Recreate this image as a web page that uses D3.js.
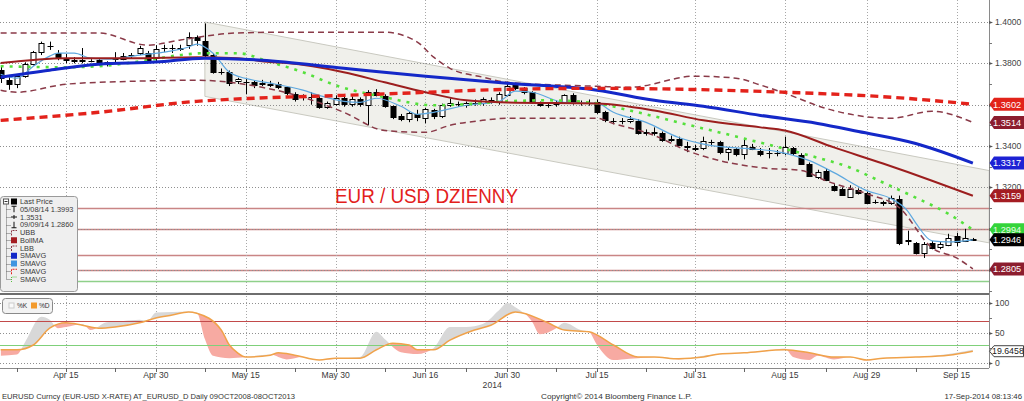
<!DOCTYPE html>
<html><head><meta charset="utf-8">
<script src="https://cdn.jsdelivr.net/npm/d3@7"></script>
<style>
html,body{margin:0;padding:0;background:#fff;}
svg{display:block;font-family:"Liberation Sans",Arial,sans-serif;}
</style></head><body>
<svg id="c" width="1024" height="401"></svg>
<script>
// ---------------- DATA ----------------
// trading-day calendar (categories): weekdays from 3 Apr 2014 to 17 Sep 2014
const firstDay = "2014-04-03", lastDay = "2014-09-17";
const tickDates  = ["2014-04-15","2014-04-30","2014-05-15","2014-05-30","2014-06-16","2014-06-30","2014-07-15","2014-07-31","2014-08-15","2014-08-29","2014-09-15"];
const tickLabels = ["Apr 15","Apr 30","May 15","May 30","Jun 16","Jun 30","Jul 15","Jul 31","Aug 15","Aug 29","Sep 15"];
const yearLabel = "2014";

const open = [1.3767,1.3720,1.3700,1.3740,1.3798,1.3854,1.3886,1.3849,1.3822,1.3815,1.3818,1.3813,1.3815,1.3793,1.3822,1.3822,1.3838,1.3848,1.3850,1.3825,
1.3870,1.3872,1.3872,1.3888,1.3927,1.3908,1.3840,1.3757,1.3757,1.3710,1.3712,1.3710,1.3700,1.3702,1.3698,1.3684,1.3650,1.3634,1.3636,1.3631,
1.3587,1.3601,1.3631,1.3601,1.3626,1.3597,1.3660,1.3640,1.3592,1.3543,1.3529,1.3553,1.3534,1.3572,1.3543,1.3597,1.3604,1.3597,1.3606,1.3606,
1.3624,1.3611,1.3645,1.3694,1.3679,1.3660,1.3606,1.3597,1.3602,1.3611,1.3645,1.3608,1.3606,1.3611,1.3563,1.3521,1.3519,1.3521,1.3519,1.3463,
1.3466,1.3461,1.3430,1.3436,1.3400,1.3392,1.3388,1.3415,1.3417,1.3368,1.3383,1.3363,1.3397,1.3378,1.3363,1.3365,1.3363,1.3388,1.3358,1.3315,
1.3252,1.3281,1.3208,1.3193,1.3155,1.3189,1.3174,1.3130,1.3128,1.3125,1.3145,1.2940,1.2931,1.2882,1.2931,1.2910,1.2921,1.2965,1.2941,1.2950];
const high = [1.3783,1.3737,1.3745,1.3805,1.3860,1.3905,1.3905,1.3864,1.3845,1.3830,1.3874,1.3820,1.3822,1.3810,1.3854,1.3850,1.3850,1.3885,1.3860,1.3888,
1.3890,1.3890,1.3890,1.3950,1.3935,1.3993,1.3850,1.3775,1.3765,1.3730,1.3730,1.3718,1.3720,1.3715,1.3710,1.3690,1.3660,1.3650,1.3660,1.3640,
1.3615,1.3645,1.3640,1.3640,1.3635,1.3670,1.3675,1.3650,1.3595,1.3555,1.3565,1.3575,1.3585,1.3580,1.3605,1.3630,1.3615,1.3615,1.3625,1.3635,
1.3635,1.3660,1.3700,1.3705,1.3685,1.3665,1.3615,1.3610,1.3620,1.3650,1.3655,1.3620,1.3625,1.3625,1.3570,1.3535,1.3535,1.3545,1.3530,1.3480,
1.3490,1.3470,1.3450,1.3445,1.3420,1.3405,1.3445,1.3430,1.3425,1.3395,1.3390,1.3430,1.3410,1.3390,1.3390,1.3380,1.3445,1.3395,1.3365,1.3320,
1.3285,1.3290,1.3215,1.3200,1.3210,1.3195,1.3180,1.3140,1.3135,1.3160,1.3160,1.2990,1.2935,1.2935,1.2940,1.2935,1.2975,1.2980,1.2999,1.2955];
const low = [1.3705,1.3672,1.3680,1.3730,1.3790,1.3840,1.3865,1.3815,1.3800,1.3800,1.3800,1.3805,1.3790,1.3785,1.3805,1.3815,1.3825,1.3840,1.3805,1.3810,
1.3855,1.3850,1.3860,1.3870,1.3885,1.3830,1.3750,1.3745,1.3690,1.3700,1.3650,1.3680,1.3690,1.3685,1.3675,1.3645,1.3615,1.3620,1.3600,1.3580,
1.3580,1.3595,1.3590,1.3590,1.3590,1.3500,1.3640,1.3585,1.3530,1.3520,1.3515,1.3520,1.3510,1.3530,1.3535,1.3590,1.3590,1.3585,1.3595,1.3595,
1.3605,1.3600,1.3640,1.3670,1.3650,1.3605,1.3590,1.3585,1.3590,1.3605,1.3600,1.3595,1.3595,1.3555,1.3515,1.3505,1.3505,1.3510,1.3455,1.3450,
1.3450,1.3420,1.3420,1.3400,1.3370,1.3375,1.3380,1.3405,1.3360,1.3330,1.3350,1.3335,1.3380,1.3350,1.3340,1.3350,1.3355,1.3355,1.3310,1.3250,
1.3240,1.3230,1.3180,1.3160,1.3150,1.3165,1.3120,1.3120,1.3110,1.3115,1.2920,1.2920,1.2875,1.2858,1.2900,1.2900,1.2915,1.2915,1.2935,1.2940];
const close = [1.3728,1.3703,1.3740,1.3798,1.3854,1.3896,1.3884,1.3825,1.3815,1.3818,1.3813,1.3813,1.3800,1.3805,1.3825,1.3835,1.3840,1.3872,1.3815,1.3868,
1.3872,1.3870,1.3876,1.3927,1.3913,1.3840,1.3757,1.3759,1.3704,1.3722,1.3710,1.3694,1.3704,1.3698,1.3684,1.3655,1.3626,1.3636,1.3634,1.3587,
1.3606,1.3631,1.3601,1.3626,1.3601,1.3660,1.3645,1.3592,1.3538,1.3529,1.3558,1.3538,1.3577,1.3543,1.3597,1.3606,1.3602,1.3606,1.3608,1.3626,
1.3618,1.3650,1.3689,1.3679,1.3660,1.3611,1.3597,1.3599,1.3608,1.3645,1.3611,1.3606,1.3608,1.3563,1.3524,1.3519,1.3521,1.3529,1.3461,1.3466,
1.3463,1.3427,1.3436,1.3407,1.3397,1.3388,1.3422,1.3417,1.3368,1.3383,1.3358,1.3407,1.3388,1.3363,1.3365,1.3363,1.3393,1.3363,1.3315,1.3257,
1.3276,1.3237,1.3189,1.3164,1.3193,1.3174,1.3125,1.3128,1.3125,1.3150,1.2931,1.2946,1.2882,1.2926,1.2907,1.2926,1.2955,1.2936,1.2955,1.2946];

// studies: [trading-day index, value]
const sma200 = [[0,1.3524],[12,1.3563],[24,1.3616],[31,1.3631],[42,1.3645],[49,1.3655],[62,1.3674],[73,1.3679],[84,1.3674],[96,1.3660],[109,1.3636],[119,1.3602]];
const sma100 = [[0,1.3733],[6,1.3767],[12,1.3796],[19,1.3806],[25,1.3825],[32,1.3815],[42,1.3776],[52,1.3738],[62,1.3704],[73,1.3670],[80,1.3621],[86,1.3592],[93,1.3548],[100,1.3509],[105,1.3470],[112,1.3412],[119,1.3317]];
const bollMA = [[0,1.3801],[8,1.3825],[16,1.3825],[24,1.3830],[29,1.3825],[33,1.3806],[35,1.3801],[42,1.3757],[47,1.3708],[52,1.3660],[57,1.3621],[62,1.3611],[73,1.3606],[80,1.3572],[86,1.3524],[93,1.3490],[96,1.3475],[102,1.3393],[108,1.3315],[114,1.3232],[119,1.3159]];
const upperBB = [[0,1.3947],[12,1.3947],[18,1.3888],[22,1.3913],[29,1.3947],[35,1.3951],[42,1.3951],[47,1.3951],[51,1.3903],[53,1.3830],[55,1.3776],[59,1.3733],[62,1.3708],[69,1.3694],[73,1.3689],[77,1.3684],[85,1.3738],[90,1.3728],[93,1.3695],[96,1.3655],[101,1.3582],[109,1.3534],[114,1.3568],[119,1.3514]];
const lowerBB = [[0,1.3670],[2,1.3660],[8,1.3699],[16,1.3713],[24,1.3718],[32,1.3684],[37,1.3636],[42,1.3563],[47,1.3475],[52,1.3466],[55,1.3500],[59,1.3524],[62,1.3534],[73,1.3534],[75,1.3509],[80,1.3451],[84,1.3378],[93,1.3295],[98,1.3281],[101,1.3232],[106,1.3169],[110,1.3101],[114,1.2907],[117,1.2858],[119,1.2805]];
const smaGreen = [[0,1.3786],[8,1.3781],[12,1.3786],[18,1.3815],[22,1.3840],[25,1.3849],[29,1.3849],[33,1.3806],[37,1.3757],[41,1.3694],[47,1.3636],[53,1.3597],[57,1.3602],[62,1.3616],[67,1.3621],[73,1.3606],[77,1.3572],[84,1.3504],[91,1.3436],[99,1.3354],[104,1.3295],[108,1.3223],[112,1.3150],[116,1.3072],[119,1.2994]];
const sma5 = [[0,1.3747],[2,1.3728],[4,1.3786],[6,1.3835],[7,1.3849],[9,1.3849],[11,1.3825],[13,1.3820],[17,1.3840],[20,1.3854],[23,1.3879],[24,1.3893],[26,1.3849],[28,1.3757],[31,1.3718],[33,1.3704],[37,1.3670],[39,1.3645],[42,1.3616],[44,1.3611],[46,1.3631],[49,1.3592],[51,1.3553],[53,1.3563],[57,1.3597],[61,1.3616],[63,1.3665],[65,1.3660],[69,1.3611],[73,1.3606],[75,1.3563],[79,1.3514],[83,1.3441],[87,1.3402],[91,1.3388],[95,1.3373],[99,1.3329],[102,1.3271],[106,1.3184],[109,1.3145],[111,1.3086],[112,1.3028],[114,1.2941],[116,1.2936],[119,1.2946]];
// trend channel from the 8 May high
const channelUpper = [[25,1.4000],[121,1.3281]];
const channelLower = [[25,1.3640],[121,1.2931]];
// horizontal levels
const levelsRed = [1.3100,1.3000,1.2872,1.2800];
const levelsGreen = [1.2745];
const priceTicks = [1.28,1.30,1.32,1.34,1.36,1.38,1.40];
const priceMinor = [1.27,1.29,1.31,1.33,1.35,1.37,1.39];
// last-value tags
const tagValues = [1.3602,1.3514,1.3317,1.3159,1.2994,1.2946,1.2805];
const tagColors = ["#e2231a","#8c1d2e","#1d22d4","#a41c22","#34d43a","#000000","#8c1d2e"];
// stochastics
const stochK = [[0,12],[2,14],[3,35],[5,77],[6,72],[7,58],[8,60],[10,65],[11,55],[13,68],[15,70],[17,72],[18,70],[19,84],[21,85],[23,86],[24,84],[25,40],[26,12],[28,8],[30,10],[33,14],[35,6],[37,10],[39,5],[42,8],[44,10],[46,52],[47,40],[49,18],[51,15],[53,25],[55,60],[57,60],[59,65],[61,88],[62,100],[63,93],[65,70],[66,48],[68,58],[69,67],[71,55],[72,52],[73,30],[75,5],[76,6],[78,8],[81,10],[83,6],[86,12],[88,15],[91,17],[94,20],[96,24],[97,10],[99,5],[100,12],[102,6],[104,10],[106,4],[108,8],[112,10],[116,15],[119,22]];
const stochD = [[0,22],[2,22],[4,30],[6,58],[8,67],[10,63],[12,58],[14,60],[17,67],[19,75],[21,80],[23,85],[24,83],[27,55],[28,30],[29,17],[30,10],[33,13],[34,17],[36,13],[39,5],[41,8],[44,8],[46,22],[48,33],[50,30],[51,22],[53,22],[55,38],[58,55],[60,63],[63,85],[67,67],[69,55],[72,52],[75,30],[78,10],[80,10],[83,7],[86,10],[88,15],[91,17],[96,22],[99,17],[102,10],[104,10],[106,5],[108,8],[112,10],[116,13],[119,19.6458]];
const stochLevels = {over:70, under:30};
const stochTicks = [0,50,100];
const stochLast = "19.6458";
const legendRows = ["Last Price","05/08/14 1.3993","1.3531","09/09/14 1.2860","UBB","BollMA","LBB","SMAVG","SMAVG","SMAVG","SMAVG"];
const title = "EUR / USD DZIENNY";
const footLeft = "EURUSD Curncy (EUR-USD X-RATE) AT_EURUSD_D  Daily 09OCT2008-08OCT2013";
const footMid = "Copyright\u00A9 2014 Bloomberg Finance L.P.";
const footRight = "17-Sep-2014 08:13:46";

// ---------------- LAYOUT ----------------
const svg = d3.select("#c");
const PR = 989, mainBot = 292, stTop = 296, stBot = 368;
const parse = d3.timeParse("%Y-%m-%d");
const days = d3.timeDay.range(parse(firstDay), d3.timeDay.offset(parse(lastDay),1)).filter(d => d.getDay()%6 !== 0);
const idxOf = s => days.findIndex(d => +d === +parse(s));
const tickIdx = tickDates.map(idxOf);

const x  = d3.scaleLinear().domain([0, days.length-1]).range([0.64, 0.64 + 8.17*(days.length-1)]);
const yM = d3.scaleLinear().domain([1.32, 1.40]).range([187.3, 22]);
const yS = d3.scaleLinear().domain([0, 100]).range([363, 303]);

const defs = svg.append("defs");
defs.append("clipPath").attr("id","cm").append("rect").attr("x",0).attr("y",0).attr("width",PR).attr("height",mainBot);
defs.append("clipPath").attr("id","cs").append("rect").attr("x",0).attr("y",stTop).attr("width",PR).attr("height",stBot-stTop);

const gM = svg.append("g").attr("clip-path","url(#cm)");

// trend channel
const chPts = channelUpper.map(d=>[x(d[0]),yM(d[1])]).concat(channelLower.slice().reverse().map(d=>[x(d[0]),yM(d[1])]));
gM.append("path").attr("d","M"+chPts.join("L")+"Z").attr("fill","#f0f0eb").attr("stroke","#c9c9c0").attr("stroke-width",1);

// horizontal levels
gM.selectAll(".lvr").data(levelsRed).join("line")
  .attr("x1",0).attr("x2",PR).attr("y1",d=>Math.round(yM(d))+0.5).attr("y2",d=>Math.round(yM(d))+0.5)
  .attr("stroke","#c98585").attr("stroke-width",1.6);
gM.selectAll(".lvg").data(levelsGreen).join("line")
  .attr("x1",0).attr("x2",PR).attr("y1",d=>Math.round(yM(d))+0.5).attr("y2",d=>Math.round(yM(d))+0.5)
  .attr("stroke","#8fd08a").attr("stroke-width",1.4);

// grid
gM.selectAll(".hg").data(priceTicks).join("line")
  .attr("x1",0).attr("x2",PR).attr("y1",d=>Math.round(yM(d))+0.5).attr("y2",d=>Math.round(yM(d))+0.5)
  .attr("stroke","#8f8f8f").attr("stroke-width",1).attr("stroke-dasharray","1,2");
gM.selectAll(".vg").data(tickIdx).join("line")
  .attr("x1",d=>Math.round(x(d))+0.5).attr("x2",d=>Math.round(x(d))+0.5).attr("y1",0).attr("y2",mainBot)
  .attr("stroke","#a8a8a8").attr("stroke-width",1).attr("stroke-dasharray","1,2");

// title
svg.append("text").attr("x",335).attr("y",202.5).attr("fill","#e3201b").attr("font-size",20)
  .attr("textLength",183).attr("lengthAdjust","spacingAndGlyphs").text(title);

// candles
const cg = gM.append("g");
close.forEach((c,i)=>{
  const o=open[i], cx=Math.round(x(i))+0.5;
  cg.append("line").attr("x1",cx).attr("x2",cx).attr("y1",yM(high[i])).attr("y2",yM(low[i])).attr("stroke","#000").attr("stroke-width",1);
  const top=yM(Math.max(o,c)), bot=yM(Math.min(o,c));
  cg.append("rect").attr("x",cx-2.5).attr("y",Math.round(top)+0.5).attr("width",5).attr("height",Math.max(Math.round(bot-top),0.01))
    .attr("fill", c>=o ? "#fff" : "#000").attr("stroke","#000").attr("stroke-width",1);
});

// study lines
const lg = d3.line().x(d=>x(d[0])).y(d=>yM(d[1])).curve(d3.curveMonotoneX);
const studies = [
  [sma5,"#5ea8df",1.2,null],
  [smaGreen,"#55e03c",2.6,"3,6"],
  [upperBB,"#8a3a48",1.5,"6,4"],
  [lowerBB,"#8a3a48",1.5,"6,4"],
  [bollMA,"#9c1e1e",2,null],
  [sma100,"#1428c8",3,null],
  [sma200,"#e3221b",3.4,"8,5"]
];
studies.forEach(s=>{
  gM.append("path").attr("d",lg(s[0])).attr("fill","none").attr("stroke",s[1]).attr("stroke-width",s[2])
    .attr("stroke-dasharray",s[3]);
});

// main legend
const lgG = svg.append("g");
lgG.append("rect").attr("x",0.5).attr("y",196.5).attr("width",77).attr("height",95).attr("rx",3)
  .attr("fill","#efefef").attr("stroke","#9a9a9a");
const rowY = k => 201.5 + k*7.75;
lgG.append("line").attr("x1",6.5).attr("x2",6.5).attr("y1",rowY(0)+3).attr("y2",rowY(10)).attr("stroke","#666").attr("stroke-dasharray","1,1");
legendRows.forEach((t,k)=>{
  const y=rowY(k);
  if(k>0) lgG.append("line").attr("x1",6.5).attr("x2",11).attr("y1",Math.round(y)+0.5).attr("y2",Math.round(y)+0.5).attr("stroke","#666").attr("stroke-dasharray","1,1");
  lgG.append("text").attr("x",20).attr("y",y).attr("dy","0.35em").attr("font-size",7.4).attr("fill","#3a3a3a").text(t);
});
// legend icons
{
  const y0=rowY(0);
  lgG.append("rect").attr("x",3.5).attr("y",y0-2.5).attr("width",5).attr("height",5).attr("fill","#fff").attr("stroke","#555");
  lgG.append("line").attr("x1",4.5).attr("x2",7.5).attr("y1",y0).attr("y2",y0).attr("stroke","#333");
  lgG.append("rect").attr("x",11).attr("y",y0-3).attr("width",6).attr("height",6).attr("fill","#000");
  const sq=(k,col)=>lgG.append("rect").attr("x",11).attr("y",rowY(k)-3).attr("width",6).attr("height",6).attr("fill",col);
  sq(5,"#a41c22"); sq(7,"#1428c8"); sq(8,"#3f94e0");
  const st=(d,col,dash)=>lgG.append("path").attr("d",d).attr("fill","none").attr("stroke",col).attr("stroke-width",1).attr("stroke-dasharray",dash);
  let y=rowY(1); st(`M11.5,${y-3}H16.5M14,${y-3}V${y+3}`,"#111",null);
  y=rowY(2); st(`M11,${y}H17M14,${y-2}V${y+2}`,"#111",null);
  y=rowY(3); st(`M11.5,${y+3}H16.5M14,${y+3}V${y-3}`,"#111",null);
  y=rowY(4); st(`M11.5,${y+3}V${y-2}H17`,"#8a3a48","2,1");
  y=rowY(6); st(`M11.5,${y+3}V${y-2}H17`,"#8a3a48","2,1");
  y=rowY(9); st(`M11.5,${y+3}V${y-2}H17`,"#e3221b","2,1");
  y=rowY(10); st(`M11.5,${y+3}V${y-2}H17`,"#55c03c","1,1");
}

// right axis (main)
svg.append("line").attr("x1",PR+0.5).attr("x2",PR+0.5).attr("y1",0).attr("y2",stBot).attr("stroke","#8a8a8a");
const tagY = tagValues.map(v=>yM(v));
const hidden = v => tagY.some(t=>Math.abs(t-yM(v))<8);
svg.selectAll(".pt").data(priceTicks.filter(v=>!hidden(v))).join("text")
  .attr("x",995).attr("y",d=>yM(d)).attr("dy","0.35em").attr("font-size",8.6).attr("fill","#444")
  .text(d=>d3.format(".4f")(d));
svg.selectAll(".ptk").data(priceTicks).join("path")
  .attr("d",d=>{const y=Math.round(yM(d))+0.5;return `M${PR},${y-1.5}L${PR+4},${y}L${PR},${y+1.5}Z`;}).attr("fill","#555");
svg.selectAll(".pmk").data(priceMinor).join("line")
  .attr("x1",PR).attr("x2",PR+3).attr("y1",d=>Math.round(yM(d))+0.5).attr("y2",d=>Math.round(yM(d))+0.5).attr("stroke","#777");

// value tags
const tagShape = (y)=>`M${PR+0.5},${y}L${PR+5},${y-6.5}L1024,${y-6.5}L1024,${y+6.5}L${PR+5},${y+6.5}Z`;
tagValues.forEach((v,k)=>{
  const y=yM(v);
  svg.append("path").attr("d",tagShape(y)).attr("fill",tagColors[k]);
  svg.append("text").attr("x",993).attr("y",y).attr("dy","0.36em").attr("font-size",9.2).attr("fill",k===4?"#e8ffe8":"#fff").text(d3.format(".4f")(v));
});

// separator
svg.append("line").attr("x1",0).attr("x2",PR).attr("y1",294).attr("y2",294).attr("stroke","#6e6e6e").attr("stroke-width",2);

// ---------------- STOCHASTICS ----------------
const gS = svg.append("g").attr("clip-path","url(#cs)");
gS.selectAll(".sg").data(stochTicks).join("line")
  .attr("x1",0).attr("x2",PR).attr("y1",d=>Math.round(yS(d))+0.5).attr("y2",d=>Math.round(yS(d))+0.5)
  .attr("stroke","#8f8f8f").attr("stroke-dasharray","1,2");
gS.selectAll(".svg").data(tickIdx).join("line")
  .attr("x1",d=>Math.round(x(d))+0.5).attr("x2",d=>Math.round(x(d))+0.5).attr("y1",stTop).attr("y2",stBot)
  .attr("stroke","#a8a8a8").attr("stroke-dasharray","1,2");

const cur = d3.curveMonotoneX;
defs.append("clipPath").attr("id","aboveD").append("path")
  .attr("d", d3.area().x(d=>x(d[0])).y0(stTop-10).y1(d=>yS(d[1])).curve(cur)(stochD));
defs.append("clipPath").attr("id","belowD").append("path")
  .attr("d", d3.area().x(d=>x(d[0])).y0(stBot+10).y1(d=>yS(d[1])).curve(cur)(stochD));
const gS2 = gS.append("g");
gS2.append("path").attr("clip-path","url(#aboveD)")
  .attr("d", d3.area().x(d=>x(d[0])).y0(stBot+10).y1(d=>yS(d[1])).curve(cur)(stochK))
  .attr("fill","#d8d8d8");
gS2.append("path").attr("clip-path","url(#belowD)")
  .attr("d", d3.area().x(d=>x(d[0])).y0(stTop-10).y1(d=>yS(d[1])).curve(cur)(stochK))
  .attr("fill","#f7aaa2");

gS.append("line").attr("x1",0).attr("x2",PR).attr("y1",Math.round(yS(stochLevels.over))+0.5).attr("y2",Math.round(yS(stochLevels.over))+0.5)
  .attr("stroke","#c24a4a").attr("stroke-width",1.2);
gS.append("line").attr("x1",0).attr("x2",PR).attr("y1",Math.round(yS(stochLevels.under))+0.5).attr("y2",Math.round(yS(stochLevels.under))+0.5)
  .attr("stroke","#7fd07a").attr("stroke-width",1.2);
gS.append("path").attr("d", d3.line().x(d=>x(d[0])).y(d=>yS(d[1])).curve(cur)(stochD))
  .attr("fill","none").attr("stroke","#f0a24a").attr("stroke-width",1.5);

// stoch legend
svg.append("rect").attr("x",2.5).attr("y",298.5).attr("width",50).attr("height",15).attr("rx",3).attr("fill","#f3f3f3").attr("stroke","#8a8a8a");
svg.append("rect").attr("x",9).attr("y",303).attr("width",5).attr("height",5).attr("fill","#fafafa").attr("stroke","#ccc");
svg.append("text").attr("x",17).attr("y",306).attr("dy","0.35em").attr("font-size",6.6).attr("fill","#333").text("%K");
svg.append("rect").attr("x",31).attr("y",302.5).attr("width",6).attr("height",6).attr("fill","#f39a2c");
svg.append("text").attr("x",39).attr("y",306).attr("dy","0.35em").attr("font-size",6.6).attr("fill","#333").text("%D");

// stoch axis
svg.selectAll(".stt").data(stochTicks).join("text")
  .attr("x",995).attr("y",d=>yS(d)).attr("dy","0.35em").attr("font-size",8.6).attr("fill","#444").text(d=>d);
svg.selectAll(".stk").data(stochTicks).join("path")
  .attr("d",d=>{const y=Math.round(yS(d))+0.5;return `M${PR},${y-1.5}L${PR+4},${y}L${PR},${y+1.5}Z`;}).attr("fill","#555");
svg.selectAll(".stm").data([25,75]).join("line")
  .attr("x1",PR).attr("x2",PR+3).attr("y1",d=>Math.round(yS(d))+0.5).attr("y2",d=>Math.round(yS(d))+0.5).attr("stroke","#777");
{
  const y=yS(stochD[stochD.length-1][1]);
  svg.append("path").attr("d",`M${PR+0.5},${y}L${PR+5},${y-5.5}L1023.5,${y-5.5}L1023.5,${y+5.5}L${PR+5},${y+5.5}Z`)
    .attr("fill","#fff").attr("stroke","#444");
  svg.append("text").attr("x",992).attr("y",y).attr("dy","0.35em").attr("font-size",8.8).attr("fill","#222").text(stochLast);
}

// x axis
svg.append("line").attr("x1",0).attr("x2",PR).attr("y1",stBot+0.5).attr("y2",stBot+0.5).attr("stroke","#8a8a8a");
const minorIdx = tickIdx.slice(1).map((d,k)=>Math.round((d+tickIdx[k])/2)).concat([tickIdx[0]-6]);
svg.selectAll(".xt").data(tickIdx.concat(minorIdx)).join("line")
  .attr("x1",d=>Math.round(x(d))+0.5).attr("x2",d=>Math.round(x(d))+0.5).attr("y1",stBot).attr("y2",stBot+4).attr("stroke","#666");
svg.selectAll(".xl").data(tickIdx).join("text")
  .attr("x",d=>x(d)).attr("y",378).attr("text-anchor","middle").attr("font-size",8.6).attr("fill","#3a3a3a")
  .text((d,k)=>tickLabels[k]);
svg.append("text").attr("x",x(tickIdx[5])-15).attr("y",388).attr("text-anchor","middle").attr("font-size",8.6).attr("fill","#3a3a3a").text(yearLabel);

// footer
svg.append("text").attr("x",2).attr("y",399).attr("font-size",7.8).attr("fill","#333").attr("textLength",293).attr("lengthAdjust","spacingAndGlyphs").text(footLeft);
svg.append("text").attr("x",541).attr("y",399).attr("font-size",7.8).attr("fill","#333").attr("textLength",151).attr("lengthAdjust","spacingAndGlyphs").text(footMid);
svg.append("text").attr("x",1022).attr("y",399).attr("text-anchor","end").attr("font-size",7.8).attr("fill","#333").text(footRight);
</script>
</body></html>
